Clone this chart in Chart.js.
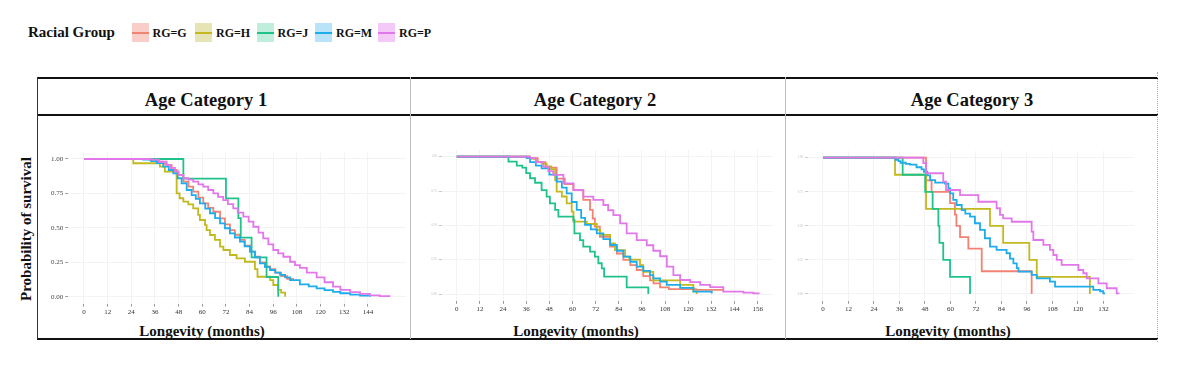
<!DOCTYPE html>
<html>
<head>
<meta charset="utf-8">
<script src="https://cdn.jsdelivr.net/npm/chart.js@4.4.1/dist/chart.umd.min.js"></script>
<style>
  body { margin: 0; width: 1193px; height: 371px; background: #fff; position: relative; overflow: hidden;
         font-family: "Liberation Serif", serif; color: #111; }
  .abs { position: absolute; }
  .txt { position: absolute; white-space: nowrap; font-weight: bold; line-height: 1; }
  .center { transform: translate(-50%, -50%); }
  .sw { position: absolute; width: 17px; height: 19px; top: 23px; }
  .sw i { position: absolute; left: 0; right: 0; top: 9px; height: 2px; }
  canvas { position: absolute; top: 116px; }
</style>
</head>
<body>

<!-- legend -->
<div class="txt" style="left:28px; top:32px; transform:translateY(-50%); font-size:15px;">Racial Group</div>
<div id="legend"></div>

<!-- table frame -->
<div class="abs" style="left:37px; top:77px; width:1121px; height:2px; background:#111;"></div>
<div class="abs" style="left:37px; top:114px; width:1121px; height:2px; background:#111;"></div>
<div class="abs" style="left:37px; top:338px; width:1121px; height:1.5px; background:#111;"></div>
<div class="abs" style="left:37px; top:77px; width:1px; height:262px; background:#333;"></div>
<div class="abs" style="left:410px; top:77px; width:1px; height:262px; background:#bdbdbd;"></div>
<div class="abs" style="left:785px; top:77px; width:1px; height:262px; background:#bdbdbd;"></div>
<div class="abs" style="left:1157px; top:72px; width:0; height:270px; border-left:1px dotted #aaa;"></div>

<!-- panel titles -->
<div class="txt center" style="left:206px; top:100px; font-size:18.5px;">Age Category 1</div>
<div class="txt center" style="left:595px; top:100px; font-size:18.5px;">Age Category 2</div>
<div class="txt center" style="left:972px; top:100px; font-size:18.5px;">Age Category 3</div>

<!-- axis titles -->
<div class="txt" style="left:26px; top:229px; transform:translate(-50%,-50%) rotate(-90deg); font-size:15px;">Probability of survival</div>
<div class="txt center" style="left:202px; top:331px; font-size:15px;">Longevity (months)</div>
<div class="txt center" style="left:576px; top:331px; font-size:15px;">Longevity (months)</div>
<div class="txt center" style="left:948px; top:331px; font-size:15px;">Longevity (months)</div>

<canvas id="c1" width="410" height="222" style="left:0px;"></canvas>
<canvas id="c2" width="375" height="222" style="left:410px;"></canvas>
<canvas id="c3" width="372" height="222" style="left:785px;"></canvas>

<script>
const groups = ['RG=G', 'RG=H', 'RG=J', 'RG=M', 'RG=P'];
const lineColors = ['#F28273', '#C2B91E', '#1FC38A', '#1EADEA', '#E277EA'];
const swatchColors = ['#F9CDC8', '#E6E4B4', '#C0EEDD', '#B8E3F8', '#F5C9F7'];

const xTicks1 = [0, 12, 24, 36, 48, 60, 72, 84, 96, 108, 120, 132, 144];
const xTicks2 = [0, 12, 24, 36, 48, 60, 72, 84, 96, 108, 120, 132, 144, 156];
const xTicks3 = [0, 12, 24, 36, 48, 60, 72, 84, 96, 108, 120, 132];
const yTicks = [0, 0.25, 0.5, 0.75, 1];

// Age Category 1 : [months, survival]
const c1G = [[0,1],[33,0.995],[37,0.98],[40,0.965],[41.9,0.956],[44.5,0.92],[47,0.884],[50.4,0.835],[53,0.8],[55.4,0.763],[58,0.72],[60.5,0.678],[63,0.645],[65.6,0.617],[69,0.569],[71.5,0.525],[74,0.484],[76.5,0.45],[79.1,0.412],[81.5,0.37],[84.2,0.327],[86.7,0.29],[89.2,0.25],[91.8,0.22],[94.3,0.2],[97,0.175],[100,0.15],[103,0.13],[106,0.12]];
const c1H = [[0,1],[25,0.969],[38.5,0.944],[41,0.908],[47,0.75],[48.5,0.715],[50.4,0.69],[52.9,0.67],[55.4,0.642],[57.9,0.594],[58.8,0.557],[61.4,0.52],[62.2,0.484],[63.9,0.448],[66.4,0.412],[69,0.363],[70.7,0.339],[74,0.303],[77.4,0.279],[81.6,0.254],[86.7,0.2],[88,0.145],[94.4,0.12],[96,0.085],[98.5,0.05],[100,0.03],[102,0]];
const c1J = [[0,1],[50.4,0.857],[72,0.714],[78.3,0.571],[79.5,0.429],[85,0.286],[92.6,0.143],[98.5,0]];
const c1M = [[0,1],[30,0.995],[34,0.985],[37,0.97],[40.2,0.944],[43,0.92],[45.3,0.896],[47.5,0.86],[49.5,0.823],[52.1,0.775],[54.6,0.738],[56.7,0.71],[58.8,0.678],[61.5,0.64],[63.9,0.606],[66.5,0.57],[69,0.533],[71.5,0.497],[74,0.46],[76.5,0.43],[79.1,0.4],[81.5,0.365],[84.2,0.327],[86.7,0.285],[89.2,0.242],[91.8,0.215],[94.3,0.194],[97,0.175],[99.4,0.158],[102,0.14],[104.5,0.121],[109.5,0.09],[114,0.075],[118,0.06],[122,0.048],[126.3,0.035],[130,0.025],[135,0.015],[140,0.008],[145,0]];
const c1P = [[0,1],[33.5,0.995],[38,0.98],[41.9,0.956],[44,0.935],[46.1,0.91],[48,0.885],[50.4,0.86],[53,0.85],[55.4,0.836],[58,0.815],[60.5,0.8],[63,0.775],[65.6,0.751],[68,0.725],[70.6,0.702],[73,0.672],[75.7,0.642],[78,0.61],[80.8,0.581],[83.5,0.545],[85.9,0.508],[88.5,0.465],[90.9,0.424],[93.5,0.38],[96,0.339],[98.5,0.315],[101.1,0.29],[104.5,0.254],[107,0.23],[109.5,0.21],[113,0.175],[118,0.14],[122,0.105],[126.3,0.073],[130,0.05],[135,0.034],[140,0.02],[145,0.01],[150,0.004],[155,0]];

// Age Category 2
const c2G = [[0,1],[38,0.99],[42,0.96],[46,0.92],[51.8,0.84],[56,0.8],[60.5,0.757],[65.6,0.685],[69.1,0.612],[70.5,0.55],[71.6,0.49],[74.2,0.417],[79.5,0.345],[83,0.295],[86.4,0.248],[90,0.21],[93.3,0.175],[96.7,0.13],[100.2,0.1],[102,0.078],[105.4,0.049],[110,0.035],[124,0.03],[138,0.02]];
const c2H = [[0,1],[38,0.985],[41,0.96],[44,0.95],[46.6,0.93],[49,0.91],[51,0.83],[51.8,0.745],[54.5,0.71],[57,0.66],[59.6,0.6],[60.5,0.527],[67.4,0.51],[72.6,0.466],[74.4,0.43],[79.5,0.369],[82,0.32],[87.3,0.272],[89.5,0.25],[95,0.211],[96.7,0.162],[101.9,0.1],[115.8,0.066],[122.7,0.02],[124.4,0]];
const c2J = [[0,1],[26.8,0.964],[31.1,0.935],[34,0.92],[36,0.88],[38,0.843],[40.6,0.81],[44,0.757],[46.6,0.709],[48.3,0.66],[51,0.612],[52.7,0.563],[60.5,0.539],[61,0.442],[63.9,0.393],[65.6,0.345],[69.1,0.308],[71.6,0.272],[73.4,0.224],[75.2,0.187],[76.4,0.126],[88.1,0.049],[99.3,0]];
const c2M = [[0,1],[36.3,0.99],[38,0.96],[41,0.935],[44,0.915],[48,0.87],[51.8,0.818],[54.5,0.775],[57,0.733],[59.6,0.67],[62.2,0.612],[64.5,0.555],[66.5,0.503],[69.5,0.47],[72.6,0.442],[76,0.4],[79.5,0.357],[83,0.315],[86.4,0.272],[90,0.235],[93.3,0.199],[96.7,0.168],[100.2,0.138],[101.9,0.114],[105.4,0.09],[108.9,0.066],[115.8,0.045],[122.7,0.017],[132.2,0.003]];
const c2P = [[0,1],[38,0.99],[41,0.96],[44.9,0.927],[47.5,0.895],[50,0.867],[55.3,0.806],[60.5,0.757],[65.6,0.709],[70.8,0.685],[76,0.648],[78.5,0.61],[81.2,0.575],[84.7,0.515],[88.1,0.442],[93.3,0.393],[98.5,0.355],[101.9,0.315],[105.4,0.275],[108.9,0.199],[112.3,0.138],[115.8,0.102],[121,0.087],[126.2,0.066],[131.4,0.05],[138.2,0.017],[148.6,0.01],[153.8,0.005],[157,0.005]];

// Age Category 3
const c3G = [[0,1],[48.5,0.833],[51.1,0.75],[59.8,0.667],[62.1,0.583],[62.8,0.5],[64.5,0.417],[68.4,0.333],[74.7,0.167],[98.2,0]];
const c3H = [[0,1],[33.9,0.875],[48.5,0.625],[78.6,0.5],[84.8,0.375],[97.1,0.25],[100.6,0.125],[125.6,0]];
const c3J = [[0,1],[37.5,0.875],[48.1,0.75],[51.6,0.625],[54.3,0.5],[54.8,0.375],[56.6,0.25],[59.8,0.125],[69.2,0]];
const c3M = [[0,1],[34,0.985],[35.5,0.975],[36.5,0.963],[39,0.955],[40.9,0.95],[44,0.93],[46.4,0.915],[47.5,0.897],[49.1,0.87],[50.4,0.836],[52.8,0.817],[57.4,0.81],[59,0.775],[59.8,0.739],[61.3,0.69],[62.9,0.653],[65.3,0.616],[67,0.59],[69.2,0.567],[71.5,0.519],[73.9,0.47],[76.2,0.409],[78.6,0.347],[81.7,0.323],[86.4,0.299],[88,0.26],[89.6,0.225],[91.2,0.19],[92,0.164],[98.2,0.14],[100.6,0.115],[106.8,0.09],[109.2,0.054],[127.2,0.03],[130.4,0.02],[131.9,0.005],[132.7,0.005]];
const c3P = [[0,1],[47.2,0.96],[48.5,0.886],[56.6,0.824],[57.9,0.763],[64.5,0.726],[73.1,0.677],[81.7,0.629],[83.3,0.58],[84.8,0.555],[88.8,0.53],[98.2,0.457],[99,0.396],[103.7,0.36],[106.8,0.323],[108.4,0.286],[110,0.25],[112.3,0.213],[120.2,0.176],[122.5,0.152],[124.1,0.115],[129.6,0.078],[133.5,0.042],[138.2,0.005],[139.5,0.005]];

// legend
const legendX = [131.5, 195, 256.5, 315, 378];
const legendEl = document.getElementById('legend');
groups.forEach((g, i) => {
  const sw = document.createElement('div');
  sw.className = 'sw';
  sw.style.left = legendX[i] + 'px';
  sw.style.background = swatchColors[i];
  sw.innerHTML = '<i style="background:' + lineColors[i] + '"></i>';
  legendEl.appendChild(sw);
  const lb = document.createElement('div');
  lb.className = 'txt';
  lb.style.cssText += 'left:' + (legendX[i] + 21) + 'px; top:33px; transform:translateY(-50%); font-size:12px;';
  lb.textContent = g;
  legendEl.appendChild(lb);
});

function makePanel(id, series, xTicks, xMin, xMax, geo, bigY) {
  new Chart(document.getElementById(id), {
    type: 'line',
    data: {
      datasets: series.map((pts, i) => ({
        label: groups[i],
        data: pts.map(p => ({ x: p[0], y: p[1] })),
        borderColor: lineColors[i],
        borderWidth: 1.8,
        pointRadius: 0,
        stepped: true,
        fill: false,
        order: groups.length - i
      }))
    },
    options: {
      responsive: false,
      animation: false,
      events: [],
      layout: { padding: { left: 0, top: geo.padT, right: geo.padR, bottom: 0 } },
      plugins: { legend: { display: false }, tooltip: { enabled: false } },
      scales: {
        x: {
          type: 'linear',
          min: xMin,
          max: xMax,
          afterBuildTicks: s => { s.ticks = xTicks.map(v => ({ value: v })); },
          afterFit: s => { s.height = geo.xH; },
          border: { display: false },
          grid: { color: '#f3f3f3', tickColor: '#999', tickLength: 3 },
          ticks: { autoSkip: false, maxRotation: 0, padding: 1, color: '#333',
                   font: { family: 'Liberation Serif', size: 7 } }
        },
        y: {
          type: 'linear',
          min: -0.05,
          max: 1.05,
          afterBuildTicks: s => { s.ticks = yTicks.map(v => ({ value: v })); },
          afterFit: s => { s.width = geo.yW; },
          border: { display: false },
          grid: { color: '#f3f3f3', tickColor: bigY ? '#999' : '#ccc', tickLength: 3 },
          ticks: {
            padding: 2,
            color: bigY ? '#444' : '#bbb',
            font: { family: 'Liberation Serif', size: bigY ? 7 : 3 },
            callback: v => v.toFixed(2)
          }
        }
      }
    }
  });
}

makePanel('c1', [c1G, c1H, c1J, c1M, c1P], xTicks1, -8, 163,
  { padT: 36.1, padR: 4.6, xH: 34.4, yW: 68.2 }, true);
makePanel('c2', [c2G, c2H, c2J, c2M, c2P], xTicks2, -7.8, 163.8,
  { padT: 33.8, padR: 12.3, xH: 37.1, yW: 31.7 }, false);
makePanel('c3', [c3G, c3H, c3J, c3M, c3P], xTicks3, -7, 146.5,
  { padT: 34.9, padR: 22.7, xH: 37.2, yW: 23.1 }, false);
</script>
</body>
</html>
